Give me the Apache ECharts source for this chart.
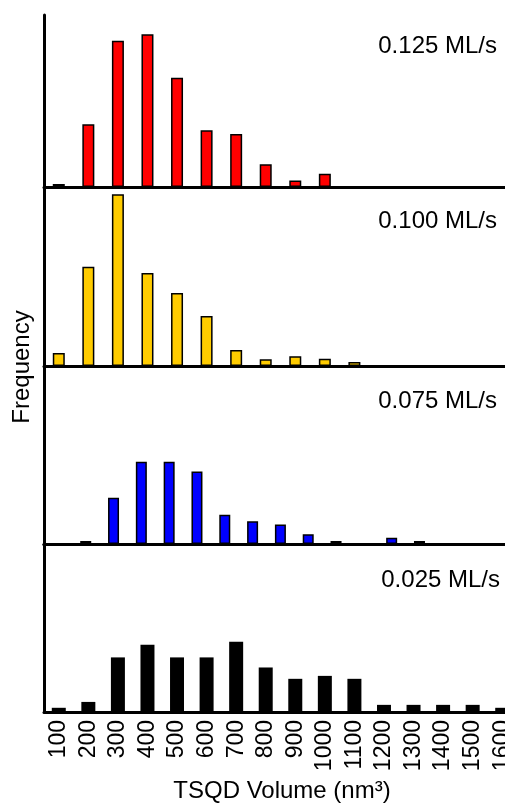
<!DOCTYPE html>
<html>
<head>
<meta charset="UTF-8">
<title>TSQD volume histograms</title>
<script src="https://cdn.jsdelivr.net/npm/echarts@6/dist/echarts.min.js"></script>
<style>
  html, body { margin: 0; padding: 0; background: #fff; }
  #main { width: 505px; height: 803px; }
</style>
</head>
<body>
<div id="main"></div>
<script>
// volume bins (nm^3)
const categories = ['100', '200', '300', '400', '500', '600', '700', '800',
  '900', '1000', '1100', '1200', '1300', '1400', '1500', '1600'];

// frequency per bin (relative units, axis max 40)
const rate125 = [0.7, 14.6, 34.0, 35.5, 25.4, 13.2, 12.3, 5.3, 1.5, 3.1, 0, 0, 0, 0, 0, 0];
const rate100 = [2.9, 22.2, 38.4, 20.8, 16.3, 11.2, 3.6, 1.5, 2.2, 1.6, 0.9, 0, 0, 0, 0, 0];
const rate075 = [0, 0.7, 10.4, 18.5, 18.5, 16.3, 6.6, 5.1, 4.4, 2.2, 0.7, 0, 1.4, 0.7, 0, 0];
const rate025 = [1.0, 2.4, 13.0, 16.0, 13.0, 13.0, 16.7, 10.6, 7.9, 8.6, 7.9, 1.7, 1.7, 1.7, 1.7, 1.0];

const panelNames = ['0.125 ML/s', '0.100 ML/s', '0.075 ML/s', '0.025 ML/s'];

const FONT = '"Liberation Sans", Arial, sans-serif';
const axisLine = { show: true, lineStyle: { color: '#000', width: 3 } };

function xAxisFor(gridIndex, withLabels, position) {
  return {
    type: 'category',
    gridIndex: gridIndex,
    position: position || 'bottom',
    data: categories,
    axisLine: axisLine,
    axisTick: { show: false },
    splitLine: { show: false },
    axisLabel: withLabels ? {
      show: true, interval: 0, rotate: 90, margin: 8,
      fontSize: 23, color: '#000', fontFamily: FONT
    } : { show: false }
  };
}

function yAxisFor(gridIndex) {
  return {
    type: 'value',
    gridIndex: gridIndex,
    min: 0,
    max: 40,
    axisLine: axisLine,
    axisTick: { show: false },
    axisLabel: { show: false },
    splitLine: { show: false }
  };
}

function barSeries(name, data, idx, xIdx, color, width, border) {
  return {
    name: name,
    type: 'bar',
    xAxisIndex: xIdx,
    yAxisIndex: idx,
    data: data,
    barWidth: width,
    itemStyle: {
      color: color,
      borderColor: '#000',
      borderWidth: border
    },
    silent: true
  };
}

const chart = echarts.init(document.getElementById('main'), null, { renderer: 'canvas' });

chart.setOption({
  animation: false,
  backgroundColor: '#fff',
  grid: [
    { left: 44, top: 15, width: 473, height: 172, outerBoundsMode: 'none' },
    { left: 44, top: 187, width: 473, height: 179, outerBoundsMode: 'none' },
    // this panel is a little narrower in the original figure
    { left: 44, top: 366, width: 445, height: 178, outerBoundsMode: 'none' },
    { left: 44, top: 544, width: 473, height: 168, outerBoundsMode: 'none' }
  ],
  xAxis: [
    xAxisFor(0, false),
    xAxisFor(1, false),
    xAxisFor(2, false),
    xAxisFor(3, true),
    xAxisFor(3, false, 'top')   // line between 3rd and 4th panel, full width
  ],
  yAxis: [yAxisFor(0), yAxisFor(1), yAxisFor(2), yAxisFor(3)],
  series: [
    barSeries(panelNames[0], rate125, 0, 0, '#ff0000', 12, 1.5),
    barSeries(panelNames[1], rate100, 1, 1, '#ffcc00', 12, 1.5),
    barSeries(panelNames[2], rate075, 2, 2, '#0000ff', 11, 1.5),
    barSeries(panelNames[3], rate025, 3, 3, '#000000', 14, 0)
  ],
  graphic: [
    { type: 'text', x: 497, y: 46, style: { text: panelNames[0], align: 'right', verticalAlign: 'middle', font: '24px ' + FONT, fill: '#000' } },
    { type: 'text', x: 497, y: 221, style: { text: panelNames[1], align: 'right', verticalAlign: 'middle', font: '24px ' + FONT, fill: '#000' } },
    { type: 'text', x: 497, y: 401, style: { text: panelNames[2], align: 'right', verticalAlign: 'middle', font: '24px ' + FONT, fill: '#000' } },
    { type: 'text', x: 500, y: 580, style: { text: panelNames[3], align: 'right', verticalAlign: 'middle', font: '24px ' + FONT, fill: '#000' } },
    { type: 'text', x: 22, y: 367, rotation: Math.PI / 2, style: { text: 'Frequency', align: 'center', verticalAlign: 'middle', font: '24px ' + FONT, fill: '#000' } },
    { type: 'text', x: 282, y: 791, style: { text: 'TSQD Volume (nm³)', align: 'center', verticalAlign: 'middle', font: '24px ' + FONT, fill: '#000' } }
  ]
});
</script>
</body>
</html>
